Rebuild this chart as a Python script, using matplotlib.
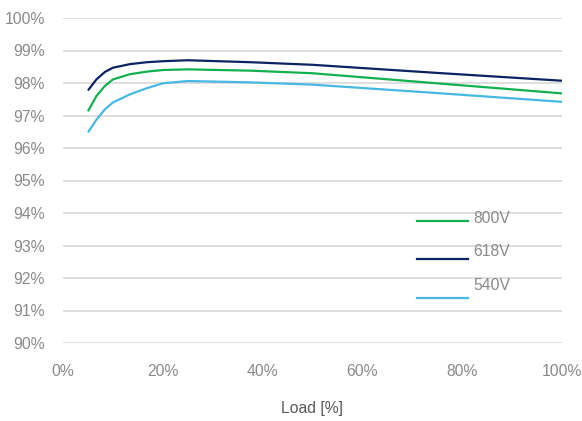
import matplotlib
matplotlib.use("Agg")
import matplotlib.pyplot as plt
from matplotlib.lines import Line2D

# Data
load = [5, 6.7, 8.4, 10, 13.4, 16.8, 20, 25, 37.5, 50, 75, 100]
eff_800 = [97.13, 97.60, 97.91, 98.11, 98.27, 98.35, 98.40, 98.42, 98.38, 98.30, 97.99, 97.68]
eff_618 = [97.77, 98.11, 98.34, 98.47, 98.58, 98.64, 98.67, 98.70, 98.64, 98.56, 98.31, 98.07]
eff_540 = [96.48, 96.87, 97.19, 97.40, 97.65, 97.84, 97.99, 98.06, 98.02, 97.95, 97.69, 97.42]
series_labels = ["800V", "618V", "540V"]
colors = ["#12b04f", "#0b2263", "#45b8e4"]
xticks = [0, 20, 40, 60, 80, 100]
yticks = [90, 91, 92, 93, 94, 95, 96, 97, 98, 99, 100]

plt.rcParams['font.family'] = ['Liberation Sans', 'DejaVu Sans']
grey = "#8a8a8a"
fs = 11.3

fig = plt.figure(figsize=(5.82, 4.21), dpi=100)
ax = fig.add_axes([63/582, 1-343/421, (562-63)/582, (343-18)/421])

for vals, c in zip([eff_800, eff_618, eff_540], colors):
    ax.plot(load, vals, color=c, lw=1.6, solid_capstyle='butt', zorder=3)

ax.set_xlim(0, 100)
ax.set_ylim(90, 100)
ax.set_xticks(xticks)
ax.set_xticklabels([f"{t}%" for t in xticks])
ax.set_yticks(yticks)
ax.set_yticklabels([f"{t}%" for t in yticks])
ax.grid(axis='y', color="#d9d9d9", lw=1.2)
ax.set_axisbelow(True)
for s in ax.spines.values():
    s.set_visible(False)
ax.tick_params(axis='both', length=0, labelsize=fs, labelcolor=grey)
ax.tick_params(axis='x', pad=15)
ax.tick_params(axis='y', pad=13)
ax.set_xlabel("Load [%]", fontsize=fs, color="#595959", labelpad=16)

# custom legend
leg_line_y = [220.7, 259, 297.7]
leg_text_y = [219, 252, 285]
for lab, c, ly, ty in zip(series_labels, colors, leg_line_y, leg_text_y):
    fig.add_artist(Line2D([417/582, 468/582], [1-ly/421, 1-ly/421], color=c, lw=1.6,
                          transform=fig.transFigure))
    fig.text(473/582, 1-ty/421, lab, color=grey, fontsize=fs, va='center', ha='left')

fig.savefig("out.png", dpi=100)
